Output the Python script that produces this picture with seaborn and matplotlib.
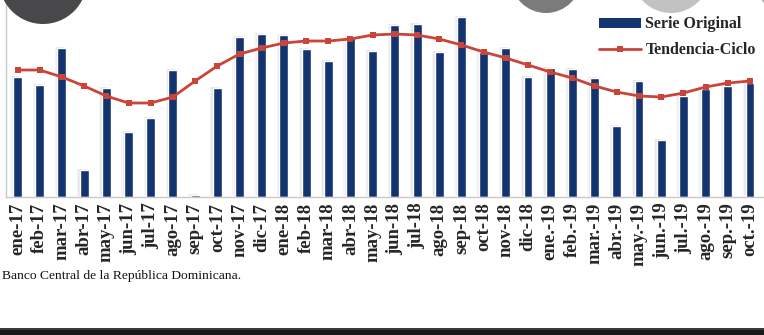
import matplotlib
matplotlib.use("Agg")
import matplotlib.pyplot as plt
import matplotlib.patheffects as pe
from matplotlib.lines import Line2D
from matplotlib.patches import Patch, Ellipse, Rectangle
import seaborn as sns
import pandas as pd
import numpy as np

months = ["ene-17", "feb-17", "mar-17", "abr-17", "may-17", "jun-17", "jul-17", "ago-17",
          "sep-17", "oct-17", "nov-17", "dic-17", "ene-18", "feb-18", "mar-18", "abr-18",
          "may-18", "jun-18", "jul-18", "ago-18", "sep-18", "oct-18", "nov-18", "dic-18",
          "ene.-19", "feb.-19", "mar.-19", "abr.-19", "may.-19", "jun.-19", "jul.-19",
          "ago.-19", "sep.-19", "oct.-19"]
serie_original = [120, 112, 149, 27, 109, 65, 79, 127, 2, 109, 160, 163,
                  162, 148, 136, 160, 146, 172, 173, 145, 180, 145, 149, 120,
                  129, 128, 119, 71, 116, 57, 101, 108, 111, 114]
tendencia_ciclo = [127, 127, 120, 111, 101, 94, 94, 100, 116, 131, 143, 149,
                   154, 156, 156, 158, 162, 163, 162, 158, 152, 145, 139, 132,
                   125, 119, 111, 105, 101, 100, 104, 110, 114, 116]

df = pd.DataFrame({"mes": months, "serie": serie_original, "tend": tendencia_ciclo,
                   "pos": np.arange(len(months))})

sns.set_theme(style="white")
plt.rcParams["font.family"] = ["Liberation Serif", "DejaVu Serif"]

W, H = 764, 335
fig = plt.figure(figsize=(W / 100, H / 100), dpi=100)
ax = fig.add_axes([6 / W, (H - 197) / H, 1 - 6 / W, 197 / H])

navy = "#143470"
red = "#c9453a"

sns.barplot(data=df, x="mes", y="serie", order=months, color=navy, width=0.4,
            saturation=1, ax=ax, zorder=2)
for p in ax.patches:
    p.set_path_effects([
        pe.SimplePatchShadow(offset=(-2, 1), shadow_rgbFace="#aaaaaa", alpha=0.1),
        pe.SimplePatchShadow(offset=(-1, 0.5), shadow_rgbFace="#999999", alpha=0.15),
        pe.Normal()])

sns.lineplot(data=df, x="pos", y="tend", color=red, linewidth=2, marker="s",
             markersize=4, markeredgewidth=0, ax=ax, zorder=3)

ax.set_xlim(-0.52, 33.63)
ax.set_ylim(0, 197)
ax.set_xlabel("")
ax.set_ylabel("")
ax.set_yticks([])
ax.set_xticks(range(len(months)))
ax.set_xticklabels(months, rotation=90, fontsize=13.5, fontweight="bold",
                   family=["Liberation Serif", "DejaVu Serif"])
ax.tick_params(axis="x", length=0, pad=4)
for s in ["top", "right"]:
    ax.spines[s].set_visible(False)
for s in ["left", "bottom"]:
    ax.spines[s].set_color("#c8c8c8")
    ax.spines[s].set_linewidth(1)

handles = [Patch(facecolor=navy, edgecolor="none"),
           Line2D([0], [0], color=red, lw=2, marker="s", markersize=4, markeredgewidth=0)]
leg = ax.legend(handles, ["Serie Original", "Tendencia-Ciclo"], loc="upper right",
                bbox_to_anchor=(1.008, 0.99), frameon=False, handlelength=2.6,
                handleheight=0.6, labelspacing=0.6, handletextpad=0.3,
                prop={"family": "Liberation Serif", "weight": "bold", "size": 11.5})

fig.text(2 / W, 1 - 276 / H, "Banco Central de la República Dominicana.",
         fontsize=9.7, va="center", ha="left", color="#111111")

# screenshot artifacts
for cx, cy, r, c in [(43, -20, 44, "#48484a"), (546, -22, 35, "#7b7b7b"),
                     (671, -26, 39, "#c2c2c2"), (795, -22, 40, "#b0b0b0")]:
    fig.add_artist(Ellipse((cx / W, 1 - cy / H), 2 * r / W, 2 * r / H,
                           transform=fig.transFigure, facecolor=c,
                           edgecolor="none", zorder=10))
fig.add_artist(Rectangle((0, 0), 1, 7 / H, transform=fig.transFigure,
                         facecolor="#17181a", edgecolor="none", zorder=10))
fig.add_artist(Rectangle((0, 5 / H), 1, 2.5 / H, transform=fig.transFigure,
                         facecolor="#3a3b3e", edgecolor="none", zorder=10))

fig.savefig("out.png", dpi=100)
